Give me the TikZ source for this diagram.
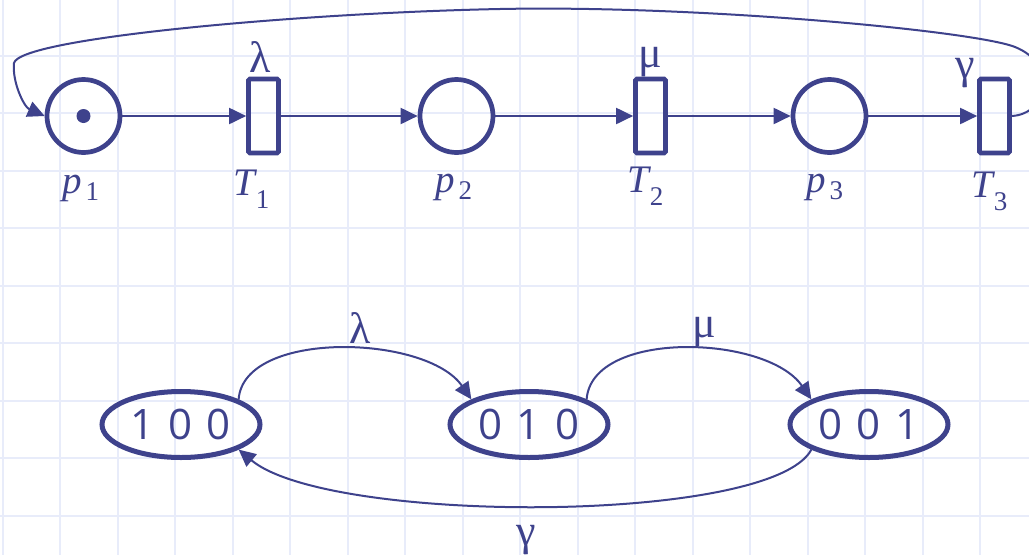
\documentclass[tikz,border=0pt]{standalone}
\usepackage{fontspec}
\setmainfont{Liberation Serif}
\newfontfamily\digitfont{Open Sans}
\usetikzlibrary{arrows.meta,shapes.geometric}
\definecolor{ink}{RGB}{62,66,140}
\definecolor{gridc}{RGB}{232,236,250}
\newcommand\subsz{\fontsize{27}{27}\selectfont}
\newcommand\plab[1]{{\itshape p}\kern4pt\raisebox{-7pt}{\subsz #1}}
\newcommand\tlab[1]{{\itshape T}\kern1pt\raisebox{-13pt}{\subsz #1}}
\begin{document}
\begin{tikzpicture}[x=1pt,y=-1pt,
  place/.style={circle,draw=ink,line width=4.7pt,minimum size=73pt,inner sep=0pt},
  token/.style={circle,fill=ink,minimum size=14pt,inner sep=0pt},
  trans/.style={rectangle,draw=ink,line width=4.7pt,minimum width=30pt,minimum height=74pt,inner sep=0pt,rounded corners=1.5pt},
  state/.style={ellipse,draw=ink,line width=5pt,minimum width=158pt,minimum height=66pt,inner sep=0pt,text=ink,font=\digitfont\fontsize{42}{42}\selectfont},
  lbl/.style={text=ink,font=\fontsize{39}{39}\selectfont,inner sep=0pt,anchor=base west},
  greek/.style={text=ink,font=\fontsize{44}{44}\selectfont,inner sep=0pt,anchor=base},
  arc/.style={draw=ink,line width=2pt,-{Triangle[length=17pt,width=16pt]}},
  gridline/.style={draw=gridc,line width=2pt}
]
\useasboundingbox (0,0) rectangle (1029,555);
\clip (0,0) rectangle (1029,555);
\fill[white] (0,0) rectangle (1029,555);
% grid
\foreach \x in {2.5,60,...,1030} \draw[gridline] (\x,0) -- (\x,555);
\foreach \y in {-2,55.5,...,560} \draw[gridline] (0,\y) -- (1029,\y);

% Petri net
\node[place] (p1) at (83.5,116) {};
\node[token] (tok) at (p1.center) {};
\node[trans] (t1) at (263.5,116) {};
\node[place] (p2) at (456.5,116) {};
\node[trans] (t2) at (650.5,116) {};
\node[place] (p3) at (829.5,116) {};
\node[trans] (t3) at (994.5,116) {};

\draw[arc] (p1) -- (t1);
\draw[arc] (t1) -- (p2);
\draw[arc] (p2) -- (t2);
\draw[arc] (t2) -- (p3);
\draw[arc] (p3) -- (t3);

\coordinate (fbR) at (1015,47);
\coordinate (fbTop) at (500,9);
\coordinate (fbL) at (14,63);
\draw[arc] (t3.east) .. controls (1048,114) and (1058,64) .. (fbR)
  .. controls (975,31) and (700,5) .. (fbTop)
  .. controls (300,13) and (20,38) .. (fbL)
  .. controls (12,82) and (24,107) .. (p1.west);

\node[lbl] (lp1) at (62,193) {\plab{1}};
\node[lbl] (lt1) at (233,195) {\tlab{1}};
\node[lbl] (lp2) at (435,192) {\plab{2}};
\node[lbl] (lt2) at (627,192) {\tlab{2}};
\node[lbl] (lp3) at (806,192) {\plab{3}};
\node[lbl] (lt3) at (971,197) {\tlab{3}};

\node[greek] (gl) at (260,72) {λ};
\node[greek] (gm) at (650,67) {μ};
\node[greek] (gg) at (965,78) {γ};

% state graph
\node[state] (e1) at (181,424.5) {1\,\,0\,\,0};
\node[state] (e2) at (529,424.5) {0\,\,1\,\,0};
\node[state] (e3) at (869,424.5) {0\,\,0\,\,1};

\draw[arc] (e1.north east) .. controls +(5,-70) and +(-45,-65) .. (e2.north west);
\draw[arc] (e2.north east) .. controls +(5,-70) and +(-45,-65) .. (e3.north west);
\draw[arc] (e3.south west) .. controls +(-40,75) and +(90,75) .. (e1.south east);

\node[greek] (sl) at (360,343) {λ};
\node[greek] (sm) at (704,337) {μ};
\node[greek] (sg) at (526,545) {γ};
\end{tikzpicture}
\end{document}
